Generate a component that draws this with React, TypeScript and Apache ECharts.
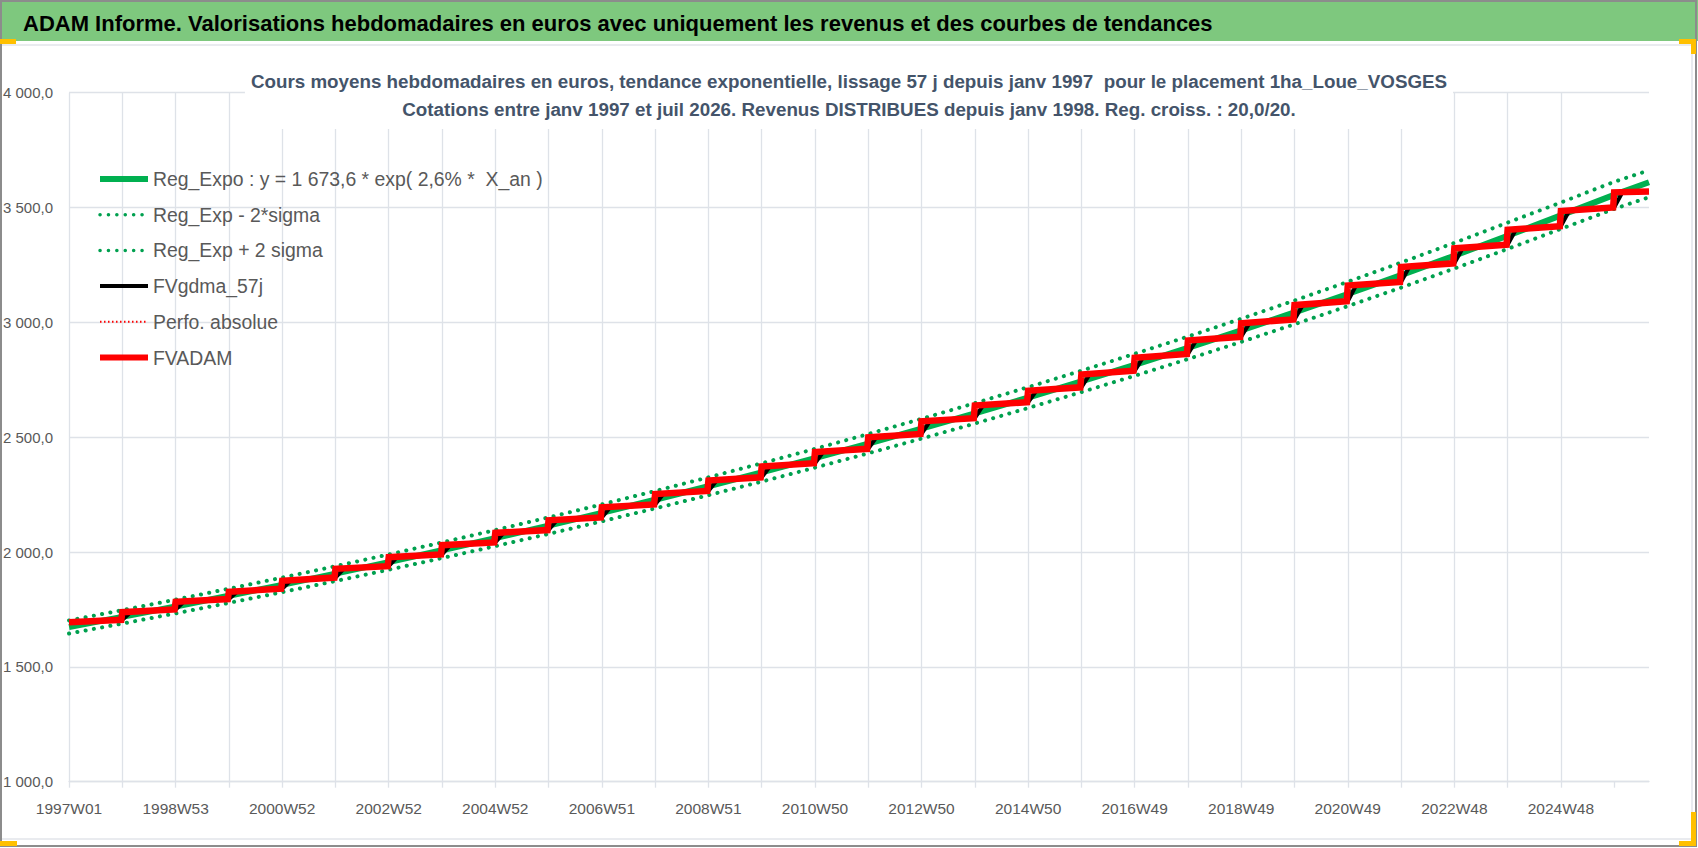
import React, { useEffect, useRef } from "react";
import * as echarts from "echarts";

// ---------- DATA ----------
const xTickLabels = [
  "1997W01", "1998W53", "2000W52", "2002W52", "2004W52", "2006W51", "2008W51", "2010W50",
  "2012W50", "2014W50", "2016W49", "2018W49", "2020W49", "2022W48", "2024W48",
];
const xLabelWeeks = [0, 104, 208, 312, 416, 520, 624, 728, 832, 936, 1040, 1144, 1248, 1352, 1456];
const xTickWeeks = [
  0, 52, 104, 156, 208, 260, 312, 364, 416, 468, 520, 572, 624, 676, 728, 780, 832, 884, 936, 988,
  1040, 1092, 1144, 1196, 1248, 1300, 1352, 1404, 1456, 1508,
];
const yTickValues = [1000, 1500, 2000, 2500, 3000, 3500, 4000];
const yTickLabels = ["1 000,0", "1 500,0", "2 000,0", "2 500,0", "3 000,0", "3 500,0", "4 000,0"];

// week index of each year start (last entry: last quotation week)
const yearWeeks = [
  0, 52, 104, 156, 208, 260, 312, 364, 416, 468, 520, 572, 624, 676, 728, 780, 832, 884, 936, 988,
  1040, 1092, 1144, 1196, 1248, 1300, 1352, 1404, 1456, 1508, 1542,
];
const regExpo = [
  1673.6, 1717.7, 1762.9, 1809.4, 1857.0, 1905.9, 1956.1, 2007.7, 2060.6, 2114.8, 2170.6, 2227.7,
  2286.4, 2346.6, 2408.5, 2471.9, 2537.0, 2603.8, 2672.4, 2742.8, 2815.1, 2889.2, 2965.3, 3043.4,
  3123.6, 3205.9, 3290.3, 3377.0, 3465.9, 3555.0, 3610.0,
];
const regLower = [
  1645.1, 1688.5, 1732.9, 1778.6, 1825.4, 1873.5, 1922.9, 1973.6, 2025.6, 2078.8, 2133.7, 2189.8,
  2247.5, 2306.7, 2367.6, 2429.9, 2493.9, 2559.5, 2627.0, 2696.2, 2767.2, 2840.1, 2914.9, 2991.7,
  3070.5, 3151.4, 3234.4, 3319.6, 3407.0, 3494.0, 3545.0,
];
const regUpper = [
  1702.1, 1746.9, 1792.9, 1840.2, 1888.6, 1938.3, 1989.4, 2041.8, 2095.6, 2150.8, 2207.5, 2265.6,
  2325.3, 2386.5, 2449.4, 2513.9, 2580.1, 2648.1, 2717.8, 2789.4, 2863.0, 2938.3, 3015.7, 3095.1,
  3176.7, 3260.4, 3346.2, 3434.4, 3522.0, 3612.0, 3662.0,
];
// yearly level of FVADAM at the start and at the end of each year
const fvadamStart = [
  1694.0, 1738.0, 1783.0, 1827.0, 1875.0, 1926.9, 1977.6, 2029.8, 2083.3, 2138.1, 2194.5, 2252.2,
  2311.5, 2372.4, 2435.0, 2500.0, 2569.0, 2638.0, 2702.0, 2773.0, 2846.0, 2921.0, 2996.0, 3075.0,
  3160.0, 3241.0, 3322.0, 3403.0, 3485.0, 3566.0,
];
const fvadamEnd = [
  1705.0, 1750.0, 1795.0, 1840.0, 1888.6, 1938.3, 1989.4, 2041.8, 2095.6, 2150.8, 2207.5, 2265.6,
  2325.3, 2386.5, 2449.4, 2514.0, 2583.0, 2652.0, 2717.0, 2789.0, 2862.0, 2937.0, 3013.0, 3092.0,
  3176.0, 3257.0, 3338.0, 3419.0, 3500.0, 3570.0,
];

const FONT = "'Liberation Sans', Arial, sans-serif";
const W = 1698;
const H = 848;

const NAME_REG = "Reg_Expo : y = 1 673,6 * exp( 2,6% *  X_an )";
const NAME_LOW = "Reg_Exp - 2*sigma";
const NAME_UP = "Reg_Exp + 2 sigma";
const NAME_GDMA = "FVgdma_57j";
const NAME_PERF = "Perfo. absolue";
const NAME_FV = "FVADAM";

function pairs(xs: number[], ys: number[]) {
  return xs.map((x, i) => [x, ys[i]]);
}

function buildFvadam() {
  const out: number[][] = [];
  const n = fvadamStart.length;
  for (let k = 0; k < n; k++) {
    out.push([yearWeeks[k], fvadamStart[k]]);
    const endW = k < n - 1 ? yearWeeks[k + 1] - 1 : yearWeeks[n];
    out.push([endW, fvadamEnd[k]]);
  }
  return out;
}

// smoothed (lagging) version of FVADAM
function buildGdma() {
  const out: number[][] = [];
  const n = fvadamStart.length;
  for (let k = 0; k < n; k++) {
    out.push([k === 0 ? 0 : yearWeeks[k] + 8, fvadamStart[k]]);
    const endW = k < n - 1 ? yearWeeks[k + 1] : yearWeeks[n];
    out.push([endW, fvadamEnd[k]]);
  }
  return out;
}

export default function App() {
  const ref = useRef<HTMLDivElement>(null);

  useEffect(() => {
    if (!ref.current) return;
    const chart = echarts.init(ref.current, null, { renderer: "svg", width: W, height: H });
    const grid = "#DEE2E8";
    const green = "#00B050";
    const dotGreen = "#00A04F";

    chart.setOption({
      animation: false,
      backgroundColor: "#ffffff",
      textStyle: { fontFamily: FONT },
      title: {
        text:
          "Cours moyens hebdomadaires en euros, tendance exponentielle, lissage 57 j depuis janv 1997  pour le placement 1ha_Loue_VOSGES\nCotations entre janv 1997 et juil 2026. Revenus DISTRIBUES depuis janv 1998. Reg. croiss. : 20,0/20.",
        left: "center",
        top: 64,
        padding: [3, 6, 6, 6],
        backgroundColor: "#ffffff",
        textStyle: {
          fontFamily: FONT,
          fontSize: 18.8,
          fontWeight: "bold",
          color: "#44546A",
          lineHeight: 28,
          align: "center",
        },
        z: 10,
      },
      legend: {
        orient: "vertical",
        left: 97,
        top: 169,
        padding: 0,
        itemWidth: 48,
        itemHeight: 14,
        itemGap: 15.7,
        itemStyle: { opacity: 0 },
        textStyle: { fontFamily: FONT, fontSize: 19.4, color: "#595959", lineHeight: 20 },
        data: [
          { name: NAME_REG, lineStyle: { width: 6 } },
          { name: NAME_LOW, lineStyle: { width: 3.5 } },
          { name: NAME_UP, lineStyle: { width: 3.5 } },
          { name: NAME_GDMA, lineStyle: { width: 4 } },
          { name: NAME_PERF, lineStyle: { width: 2 } },
          { name: NAME_FV, lineStyle: { width: 6 } },
        ],
      },
      grid: { left: 66.7, right: W - 1649, top: 92.7, bottom: H - 781.7, containLabel: false },
      xAxis: {
        type: "value",
        min: 0,
        max: yearWeeks[yearWeeks.length - 1],
        interval: 52,
        axisLine: { show: true, lineStyle: { color: grid, width: 1.3 } },
        axisTick: { show: true, length: 6, customValues: xTickWeeks, lineStyle: { color: grid, width: 1.3 } },
        axisLabel: {
          customValues: xLabelWeeks,
          margin: 19,
          fontFamily: FONT,
          fontSize: 15.5,
          color: "#595959",
          formatter: (v: number) => {
            const i = xLabelWeeks.indexOf(Math.round(v));
            return i >= 0 ? xTickLabels[i] : "";
          },
        },
        splitLine: { show: true, showMaxLine: false, lineStyle: { color: grid, width: 1.3 } },
      },
      yAxis: {
        type: "value",
        min: 1000,
        max: 4000,
        interval: 500,
        axisLine: { show: false },
        axisTick: { show: false },
        axisLabel: {
          margin: 16,
          fontFamily: FONT,
          fontSize: 15,
          color: "#595959",
          formatter: (v: number) => {
            const i = yTickValues.indexOf(Math.round(v));
            return i >= 0 ? yTickLabels[i] : "";
          },
        },
        splitLine: { show: true, lineStyle: { color: grid, width: 1.3 } },
      },
      series: [
        {
          name: NAME_REG,
          type: "line",
          symbol: "none",
          data: pairs(yearWeeks, regExpo),
          color: green,
          lineStyle: { color: green, width: 6 },
        },
        {
          name: NAME_LOW,
          type: "line",
          symbol: "none",
          data: pairs(yearWeeks, regLower),
          color: dotGreen,
          lineStyle: { color: dotGreen, width: 4, type: [0.1, 8.3], cap: "round" },
        },
        {
          name: NAME_UP,
          type: "line",
          symbol: "none",
          data: pairs(yearWeeks, regUpper),
          color: dotGreen,
          lineStyle: { color: dotGreen, width: 4, type: [0.1, 8.3], cap: "round" },
        },
        {
          name: NAME_GDMA,
          type: "line",
          symbol: "none",
          data: buildGdma(),
          color: "#000000",
          lineStyle: { color: "#000000", width: 4 },
        },
        {
          name: NAME_PERF,
          type: "line",
          symbol: "none",
          data: [],
          color: "#FF0000",
          lineStyle: { color: "#FF0000", width: 2, type: [1.5, 2.5] },
        },
        {
          name: NAME_FV,
          type: "line",
          symbol: "none",
          data: buildFvadam(),
          color: "#FF0000",
          lineStyle: { color: "#FF0000", width: 6.5, join: "miter" },
        },
      ],
      graphic: [
        { type: "rect", shape: { x: 0, y: 0, width: W, height: 41 }, style: { fill: "#7EC87E" }, z: 0 },
        {
          type: "text",
          x: 23,
          y: 23,
          style: {
            text: "ADAM Informe. Valorisations hebdomadaires en euros avec uniquement les revenus et des courbes de tendances",
            fontFamily: FONT,
            fontSize: 22,
            fontWeight: "bold",
            fill: "#000000",
            align: "left",
            verticalAlign: "middle",
          },
          z: 1,
        },
        { type: "line", shape: { x1: 0, y1: 45, x2: 1692, y2: 45 }, style: { stroke: "#E2E5EA", lineWidth: 1.5 } },
        { type: "line", shape: { x1: 1692, y1: 45, x2: 1692, y2: 839 }, style: { stroke: "#E2E5EA", lineWidth: 1.5 } },
        { type: "line", shape: { x1: 0, y1: 839, x2: 1692, y2: 839 }, style: { stroke: "#E2E5EA", lineWidth: 1.5 } },
        {
          type: "rect",
          shape: { x: 1, y: 1, width: W - 3, height: H - 3 },
          style: { fill: "none", stroke: "#8C8C8C", lineWidth: 2 },
        },
        { type: "rect", shape: { x: 0, y: 39, width: 16, height: 5 }, style: { fill: "#FFC000" } },
        { type: "rect", shape: { x: 1679, y: 39, width: 17, height: 5 }, style: { fill: "#FFC000" } },
        { type: "rect", shape: { x: 1691, y: 39, width: 5, height: 15 }, style: { fill: "#FFC000" } },
        { type: "rect", shape: { x: 0, y: 841, width: 17, height: 5 }, style: { fill: "#FFC000" } },
        { type: "rect", shape: { x: 1679, y: 841, width: 17, height: 5 }, style: { fill: "#FFC000" } },
        { type: "rect", shape: { x: 1691, y: 812, width: 5, height: 34 }, style: { fill: "#FFC000" } },
      ],
    });

    return () => {
      chart.dispose();
    };
  }, []);

  return (
    <div
      ref={ref}
      style={{ position: "fixed", left: 0, top: 0, width: W, height: H, background: "#ffffff" }}
    />
  );
}
